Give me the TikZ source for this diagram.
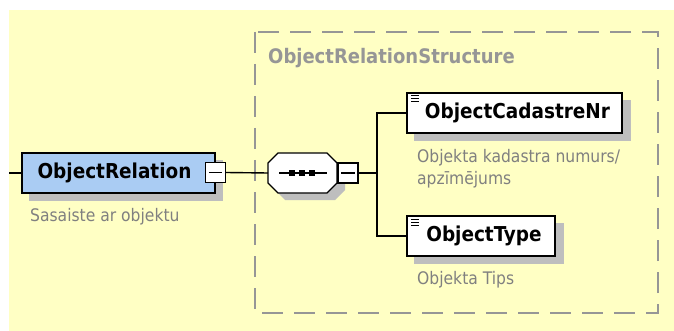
\documentclass[tikz,border=0pt]{standalone}
\usepackage{fontspec}
\setmainfont{DejaVu Sans Condensed}
\definecolor{bgyellow}{RGB}{255,255,196}
\definecolor{elblue}{RGB}{170,204,243}
\definecolor{shadowgrey}{RGB}{190,190,190}
\definecolor{capgrey}{RGB}{128,128,128}
\definecolor{dashgrey}{RGB}{150,150,150}
\tikzset{
  elem/.style={draw=black, line width=1.6pt, fill=white, minimum height=40pt, inner sep=0pt,
    font=\fontsize{20.5}{22}\selectfont\bfseries, text=black},
  minusbox/.style={draw=black, line width=1.4pt, fill=white, minimum width=20pt, minimum height=20pt, inner sep=0pt},
  caption/.style={anchor=west, inner sep=0pt, text=capgrey, font=\fontsize{17.3}{19}\selectfont,
    text height=12pt, text depth=3.5pt},
  conn/.style={line width=1.4pt, draw=black},
}
\begin{document}
\begin{tikzpicture}[x=1pt,y=-1pt]
\useasboundingbox (0,0) rectangle (674,331);
\fill[white] (0,0) rectangle (674,331);
\fill[bgyellow] (9,10) rectangle (674,331);
% dashed structure frame
\draw[dashgrey, line width=1.8pt, dash pattern=on 21pt off 11pt] (255,32) rectangle (658,313);
\node[anchor=west, inner sep=0pt, text=dashgrey, font=\fontsize{20}{22}\selectfont\bfseries] (title) at (268,58) {ObjectRelationStructure};
% ObjectRelation
\fill[shadowgrey] (29,160) rectangle (223,201);
\node[elem, fill=elblue, minimum width=193pt] (rel) at (118.5,173) {ObjectRelation\hspace*{8pt}};
\node[minusbox] (relm) at (215.5,172.5) {};
\draw[line width=1.4pt] ([xshift=4pt]relm.west) -- ([xshift=-4pt]relm.east);
\node[caption] (relcap) at (30,217) {Sasaiste ar objektu};
% sequence compositor
\fill[shadowgrey] (285,160) -- (335,160) -- (345,170) -- (345,190) -- (335,200) -- (285,200) -- (275,190) -- (275,170) -- cycle;
\draw[fill=white, line width=1.4pt] (278,153) -- (327,153) -- (337,163) -- (337,183) -- (327,193) -- (278,193) -- (268,183) -- (268,163) -- cycle;
\coordinate (seqw) at (268,173);
\draw[line width=1.2pt] (279,173) -- (327,173);
\foreach \xx in {292,302,312} \fill[black] (\xx-2.8,170.2) rectangle (\xx+2.8,175.8);
\node[minusbox] (seqm) at (348,173) {};
\draw[line width=1.4pt] ([xshift=4pt]seqm.west) -- ([xshift=-4pt]seqm.east);
\coordinate (bus) at (377,173);
% ObjectCadastreNr
\fill[shadowgrey] (414,100) rectangle (631,141);
\node[elem, minimum width=215pt] (cad) at (514.5,113) {\hspace*{6pt}ObjectCadastreNr};
\foreach \yy in {96,99,102} \draw[line width=1pt] (411,\yy) -- (419,\yy);
\node[caption] (cadcap1) at (417,158) {Objekta kadastra numurs/};
\node[caption] (cadcap2) at (417,180) {apzīmējums};
% ObjectType
\fill[shadowgrey] (414,223) rectangle (564,264);
\node[elem, minimum width=148pt] (typ) at (481,236) {\hspace*{6pt}ObjectType};
\foreach \yy in {219,222,225} \draw[line width=1pt] (411,\yy) -- (419,\yy);
\node[caption] (typcap) at (417,280) {Objekta Tips};
% connectors
\coordinate (lstart) at (9,173);
\draw[conn] (lstart) -- (rel.west);
\draw[conn] (relm.east) -- (seqw);
\draw[conn] (seqm.east) -- (bus);
\draw[conn] (cad.west) -| (bus);
\draw[conn] (typ.west) -| (bus);
\end{tikzpicture}
\end{document}
